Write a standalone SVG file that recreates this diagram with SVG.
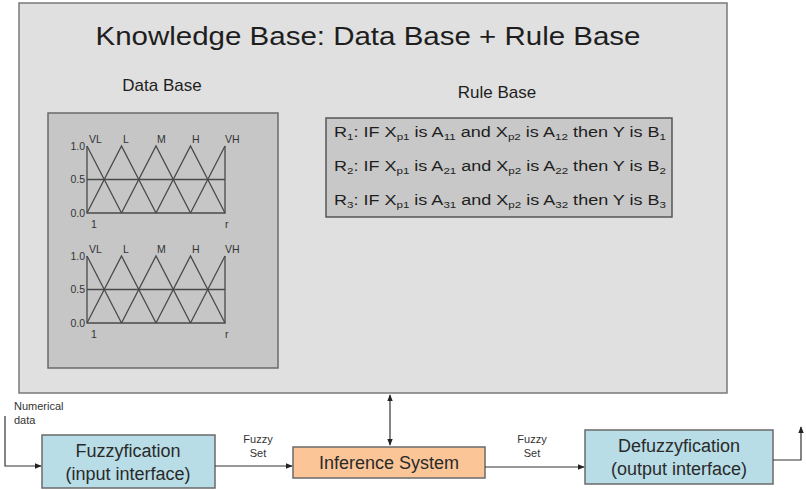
<svg xmlns="http://www.w3.org/2000/svg" width="806" height="490" viewBox="0 0 806 490">
  <style>
    text { font-family: "Liberation Sans", Arial, sans-serif; fill: #1e1e1e; }
    .chart { fill: none; stroke: #4a4a4a; stroke-width: 1.3; }
    .axlbl { font-size: 10.5px; fill: #333; }
    .rule { font-size: 14px; }
    .sub { font-size: 9px; }
    .box { stroke: #6a6a6a; stroke-width: 1.5; }
    .node { font-size: 18px; text-anchor: middle; fill: #2a2a2a; }
    .small { font-size: 11px; fill: #333; }
    .conn { fill: none; stroke: #333; stroke-width: 1.2; }
  </style>
  <defs>
    <marker id="arr" viewBox="0 0 10 10" refX="9" refY="5" markerWidth="6" markerHeight="6" orient="auto-start-reverse">
      <path d="M0,1 L10,5 L0,9 z" fill="#222"/>
    </marker>
    <!-- five triangular membership functions, origin at 1.0 / left axis -->
    <g id="mf">
      <polyline class="chart" points="0,0 0,67 138,67 138,0"/>
      <line class="chart" x1="0" y1="33.5" x2="138" y2="33.5"/>
      <polyline class="chart" points="0,0 34.5,67"/>
      <polyline class="chart" points="0,67 34.5,0 69,67"/>
      <polyline class="chart" points="34.5,67 69,0 103.5,67"/>
      <polyline class="chart" points="69,67 103.5,0 138,67"/>
      <polyline class="chart" points="103.5,67 138,0"/>
      <text class="axlbl" x="-2" y="4" text-anchor="end">1.0</text>
      <text class="axlbl" x="-2" y="37" text-anchor="end">0.5</text>
      <text class="axlbl" x="-2" y="71" text-anchor="end">0.0</text>
      <text class="axlbl" x="2" y="-3">VL</text>
      <text class="axlbl" x="36" y="-3">L</text>
      <text class="axlbl" x="70" y="-3">M</text>
      <text class="axlbl" x="105" y="-3">H</text>
      <text class="axlbl" x="138" y="-3">VH</text>
      <text class="axlbl" x="4" y="82">1</text>
      <text class="axlbl" x="138" y="82">r</text>
    </g>
  </defs>

  <g id="knowledge-base">
    <rect x="19" y="3" width="708" height="390" fill="#e0e0e0" stroke="#7a7a7a" stroke-width="1.5"/>
    <text x="368" y="45" font-size="25" text-anchor="middle" textLength="545" lengthAdjust="spacingAndGlyphs">Knowledge Base: Data Base + Rule Base</text>
  </g>

  <g id="data-base">
    <text x="162" y="91" font-size="17" text-anchor="middle">Data Base</text>
    <rect x="48" y="113" width="230" height="255" fill="#c6c6c6" stroke="#6a6a6a" stroke-width="1.5"/>
    <use href="#mf" x="87" y="146"/>
    <use href="#mf" x="87" y="256"/>
  </g>

  <g id="rule-base">
    <text x="497" y="98" font-size="17" text-anchor="middle">Rule Base</text>
    <rect x="326" y="118" width="346" height="99" fill="#c8c8c8" stroke="#555" stroke-width="1.5"/>
    <text class="rule" x="334" y="137" textLength="332" lengthAdjust="spacingAndGlyphs">R<tspan class="sub" dy="3">1</tspan><tspan dy="-3">: IF X</tspan><tspan class="sub" dy="3">p1</tspan><tspan dy="-3"> is A</tspan><tspan class="sub" dy="3">11</tspan><tspan dy="-3"> and X</tspan><tspan class="sub" dy="3">p2</tspan><tspan dy="-3"> is A</tspan><tspan class="sub" dy="3">12</tspan><tspan dy="-3"> then Y is B</tspan><tspan class="sub" dy="3">1</tspan></text>
    <text class="rule" x="334" y="171" textLength="332" lengthAdjust="spacingAndGlyphs">R<tspan class="sub" dy="3">2</tspan><tspan dy="-3">: IF X</tspan><tspan class="sub" dy="3">p1</tspan><tspan dy="-3"> is A</tspan><tspan class="sub" dy="3">21</tspan><tspan dy="-3"> and X</tspan><tspan class="sub" dy="3">p2</tspan><tspan dy="-3"> is A</tspan><tspan class="sub" dy="3">22</tspan><tspan dy="-3"> then Y is B</tspan><tspan class="sub" dy="3">2</tspan></text>
    <text class="rule" x="334" y="205" textLength="332" lengthAdjust="spacingAndGlyphs">R<tspan class="sub" dy="3">3</tspan><tspan dy="-3">: IF X</tspan><tspan class="sub" dy="3">p1</tspan><tspan dy="-3"> is A</tspan><tspan class="sub" dy="3">31</tspan><tspan dy="-3"> and X</tspan><tspan class="sub" dy="3">p2</tspan><tspan dy="-3"> is A</tspan><tspan class="sub" dy="3">32</tspan><tspan dy="-3"> then Y is B</tspan><tspan class="sub" dy="3">3</tspan></text>
  </g>

  <g id="fuzzyfication">
    <rect class="box" x="42" y="435" width="173" height="53" fill="#b8dde6"/>
    <text class="node" x="128" y="457">Fuzzyfication</text>
    <text class="node" x="128" y="480">(input interface)</text>
  </g>

  <g id="inference-system">
    <rect class="box" x="293" y="447" width="192" height="31" fill="#fbc597"/>
    <text class="node" x="389" y="469" font-size="18">Inference System</text>
  </g>

  <g id="defuzzyfication">
    <rect class="box" x="585" y="430" width="188" height="54" fill="#b8dde6"/>
    <text class="node" x="679" y="452">Defuzzyfication</text>
    <text class="node" x="679" y="475">(output interface)</text>
  </g>

  <g id="connectors">
    <polyline class="conn" points="5,416 5,466 41,466" marker-end="url(#arr)"/>
    <line class="conn" x1="215" y1="466" x2="292" y2="466" marker-end="url(#arr)"/>
    <line class="conn" x1="390" y1="395" x2="390" y2="445" marker-start="url(#arr)" marker-end="url(#arr)"/>
    <line class="conn" x1="485" y1="467" x2="584" y2="467" marker-end="url(#arr)"/>
    <polyline class="conn" points="773,460 801,460 801,427" marker-end="url(#arr)"/>
    <text class="small" x="14" y="410">Numerical</text>
    <text class="small" x="14" y="424">data</text>
    <text class="small" x="258" y="443" text-anchor="middle">Fuzzy</text>
    <text class="small" x="258" y="457" text-anchor="middle">Set</text>
    <text class="small" x="532" y="443" text-anchor="middle">Fuzzy</text>
    <text class="small" x="532" y="457" text-anchor="middle">Set</text>
  </g>
</svg>
